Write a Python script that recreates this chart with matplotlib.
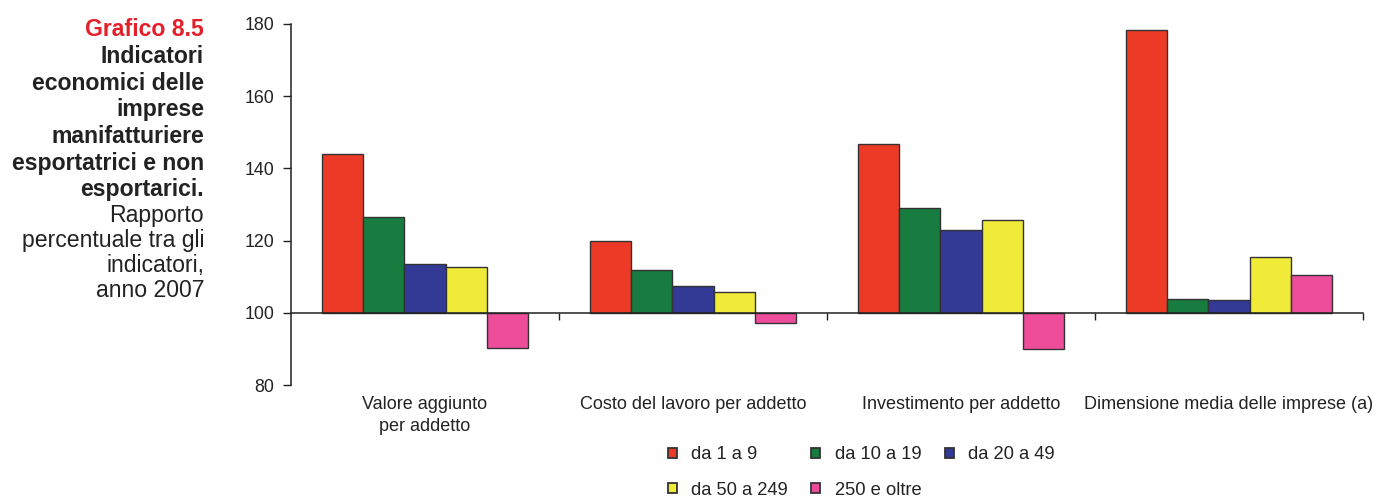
import numpy as np
import matplotlib
matplotlib.use("Agg")
import matplotlib.pyplot as plt
from matplotlib.patches import Rectangle

plt.rcParams["font.family"] = ["Liberation Sans", "DejaVu Sans"]

# ----- DATA -----
categories = ["Valore aggiunto\nper addetto", "Costo del lavoro per addetto",
              "Investimento per addetto", "Dimensione media delle imprese (a)"]
classi = ["da 1 a 9", "da 10 a 19", "da 20 a 49", "da 50 a 249", "250 e oltre"]
da_1_a_9 = [144.0, 120.0, 146.8, 178.4]
da_10_a_19 = [126.6, 111.9, 129.1, 103.9]
da_20_a_49 = [113.6, 107.5, 123.0, 103.6]
da_50_a_249 = [112.7, 105.8, 125.8, 115.5]
da_250_e_oltre = [90.3, 97.2, 90.0, 110.5]
yticks = [80, 100, 120, 140, 160, 180]

series = [da_1_a_9, da_10_a_19, da_20_a_49, da_50_a_249, da_250_e_oltre]
colors = ["#EC3A26", "#187B3F", "#323A95", "#F0EA38", "#EE4D9B"]
edge = "#333333"
txtcol = "#222222"

# ----- FIGURE -----
fig = plt.figure(figsize=(13.76, 4.98), dpi=100)
ax = fig.add_axes([291 / 1376, 1 - 385 / 498, (1363 - 291) / 1376, (385 - 24) / 498])

x = np.arange(len(categories))
w = 0.154
for i, (vals, col) in enumerate(zip(series, colors)):
    vals = np.array(vals)
    ax.bar(x + (i - 2) * w, vals - 100, bottom=100, width=w, color=col,
           edgecolor=edge, linewidth=1.0, label=classi[i], zorder=2)

ax.set_xlim(-0.5, len(categories) - 0.5)
ax.set_ylim(80, 180)
ax.set_yticks(yticks)
ax.tick_params(axis="y", direction="out", length=6, width=1, pad=6,
               labelsize=12.8, colors=txtcol)

for s in ["top", "right"]:
    ax.spines[s].set_visible(False)
ax.spines["left"].set_linewidth(1.1)
ax.spines["left"].set_color(txtcol)
ax.spines["bottom"].set_position(("data", 100))
ax.spines["bottom"].set_linewidth(1.1)
ax.spines["bottom"].set_color(txtcol)
ax.spines["bottom"].set_zorder(3)

# tick marks between categories on the 100 line
ax.set_xticks(x + 0.5)
ax.set_xticklabels([])
ax.tick_params(axis="x", direction="out", length=5, width=1, colors=txtcol)

# category labels under the plot
sec = ax.secondary_xaxis(0)
sec.set_xticks(x)
sec.set_xticklabels(categories, fontsize=13.0, color=txtcol, linespacing=1.35)
sec.tick_params(length=0, pad=8)
sec.spines["bottom"].set_visible(False)

# ----- LEGEND (row-wise order) -----
handles = [Rectangle((0, 0), 1, 1, facecolor=c, edgecolor=edge, linewidth=1.3) for c in colors]
order = [0, 3, 1, 4, 2]
fig.legend([handles[k] for k in order], [classi[k] for k in order], ncol=3,
           loc="center", bbox_to_anchor=(0.626, 0.051), frameon=False,
           fontsize=13.2, handlelength=0.5, handleheight=0.5, handletextpad=0.8,
           columnspacing=1.25, labelspacing=1.0, borderpad=0, labelcolor=txtcol)

# ----- TITLE BLOCK -----
xr = 204 / 1376
title_lines = [
    ("Grafico 8.5", "bold", "#E3202A", 36),
    ("Indicatori", "bold", txtcol, 63),
    ("economici delle", "bold", txtcol, 90),
    ("imprese", "bold", txtcol, 116),
    ("manifatturiere", "bold", txtcol, 143),
    ("esportatrici e non", "bold", txtcol, 170),
    ("esportarici.", "bold", txtcol, 196),
    ("Rapporto", "normal", txtcol, 222),
    ("percentuale tra gli", "normal", txtcol, 247),
    ("indicatori,", "normal", txtcol, 272),
    ("anno 2007", "normal", txtcol, 297),
]
for txt, wt, col, yb in title_lines:
    fig.text(xr, 1 - yb / 498, txt, ha="right", va="baseline", fontsize=16.6,
             fontweight=wt, color=col)

fig.savefig("out.png", dpi=100)
